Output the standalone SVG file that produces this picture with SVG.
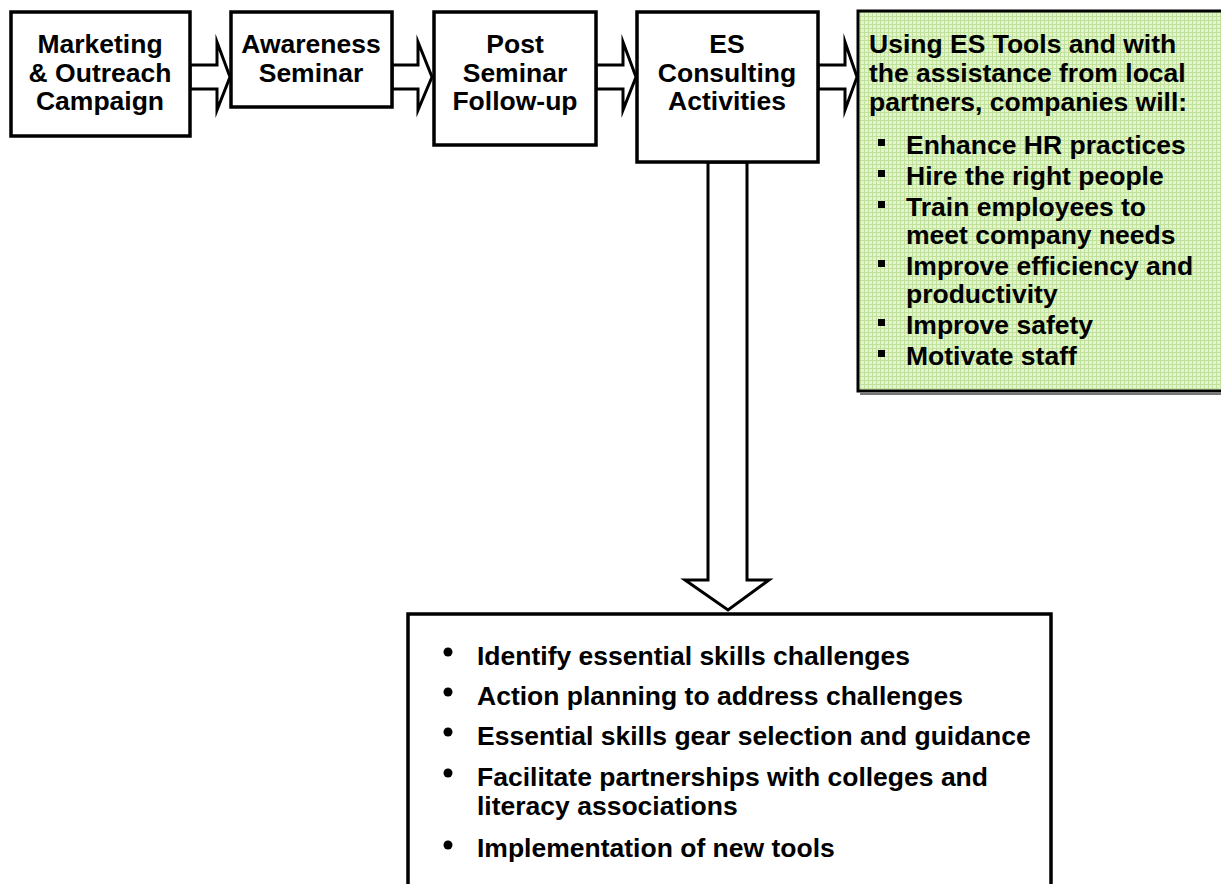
<svg xmlns="http://www.w3.org/2000/svg" width="1221" height="884" viewBox="0 0 1221 884">
<defs>
<pattern id="grid" x="0" y="0" width="4" height="4" patternUnits="userSpaceOnUse">
<rect width="4" height="4" fill="#e4f4d0"/>
<rect x="0" y="0" width="1" height="4" fill="#bfe19a"/>
<rect x="0" y="0" width="4" height="1" fill="#bfe19a"/>
</pattern>
</defs>
<style>
.box{fill:#fff;stroke:#000;stroke-width:3.5}
.t{font-family:"Liberation Sans",Arial,sans-serif;font-weight:bold;font-size:26.5px;fill:#000}
.c{text-anchor:middle}
.arr{fill:#fff;stroke:#000;stroke-width:3;stroke-linejoin:miter;stroke-miterlimit:10}
</style>
<rect width="1221" height="884" fill="#fff"/>
<g id="connectors">
<polygon class="arr" points="190,65 217,65 217,42 230,77 217,110 217,89 190,89"/>
<polygon class="arr" points="392,65 418,65 418,42 432,77 418,110 418,89 392,89"/>
<polygon class="arr" points="596,65 623,65 623,42 636,77 623,110 623,89 596,89"/>
<polygon class="arr" points="818,65 845,65 845,42 857,77 845,110 845,89 818,89"/>
<polygon class="arr" points="708,162 747,162 747,580 769,580 728,610 685,580 708,580"/>
</g>
<g id="n1">
<rect class="box" x="11" y="12" width="179" height="124"/>
<text class="t c" x="100" y="53">Marketing</text>
<text class="t c" x="100" y="82">&amp; Outreach</text>
<text class="t c" x="100" y="110">Campaign</text>
</g>
<g id="n2">
<rect class="box" x="231" y="12" width="161" height="95"/>
<text class="t c" x="311" y="53">Awareness</text>
<text class="t c" x="311" y="82">Seminar</text>
</g>
<g id="n3">
<rect class="box" x="434" y="12" width="162" height="133"/>
<text class="t c" x="515" y="53">Post</text>
<text class="t c" x="515" y="82">Seminar</text>
<text class="t c" x="515" y="110">Follow-up</text>
</g>
<g id="n4">
<rect class="box" x="637" y="12" width="181" height="150"/>
<text class="t c" x="727" y="53">ES</text>
<text class="t c" x="727" y="82">Consulting</text>
<text class="t c" x="727" y="110">Activities</text>
</g>
<g id="n5">
<rect x="860" y="393" width="370" height="2" fill="#777"/>
<rect x="858" y="11" width="370" height="380" fill="url(#grid)" stroke="#000" stroke-width="3"/>
<text class="t" x="869" y="53">Using ES Tools and with</text>
<text class="t" x="869" y="82">the assistance from local</text>
<text class="t" x="869" y="111">partners, companies will:</text>
<g fill="#000">
<rect x="878" y="139" width="7" height="7"/>
<rect x="878" y="170" width="7" height="7"/>
<rect x="878" y="201" width="7" height="7"/>
<rect x="878" y="260" width="7" height="7"/>
<rect x="878" y="319" width="7" height="7"/>
<rect x="878" y="350" width="7" height="7"/>
</g>
<text class="t" x="906" y="154">Enhance HR practices</text>
<text class="t" x="906" y="185">Hire the right people</text>
<text class="t" x="906" y="216">Train employees to</text>
<text class="t" x="906" y="244">meet company needs</text>
<text class="t" x="906" y="275">Improve efficiency and</text>
<text class="t" x="906" y="303">productivity</text>
<text class="t" x="906" y="334">Improve safety</text>
<text class="t" x="906" y="365">Motivate staff</text>
</g>
<g id="n6">
<rect class="box" x="408" y="614" width="643" height="290"/>
<g fill="#000">
<circle cx="448" cy="652" r="4.5"/>
<circle cx="448" cy="692" r="4.5"/>
<circle cx="448" cy="732" r="4.5"/>
<circle cx="448" cy="773" r="4.5"/>
<circle cx="448" cy="845" r="4.5"/>
</g>
<text class="t" x="477" y="665">Identify essential skills challenges</text>
<text class="t" x="477" y="705">Action planning to address challenges</text>
<text class="t" x="477" y="745">Essential skills gear selection and guidance</text>
<text class="t" x="477" y="786">Facilitate partnerships with colleges and</text>
<text class="t" x="477" y="815">literacy associations</text>
<text class="t" x="477" y="857">Implementation of new tools</text>
</g>
</svg>
